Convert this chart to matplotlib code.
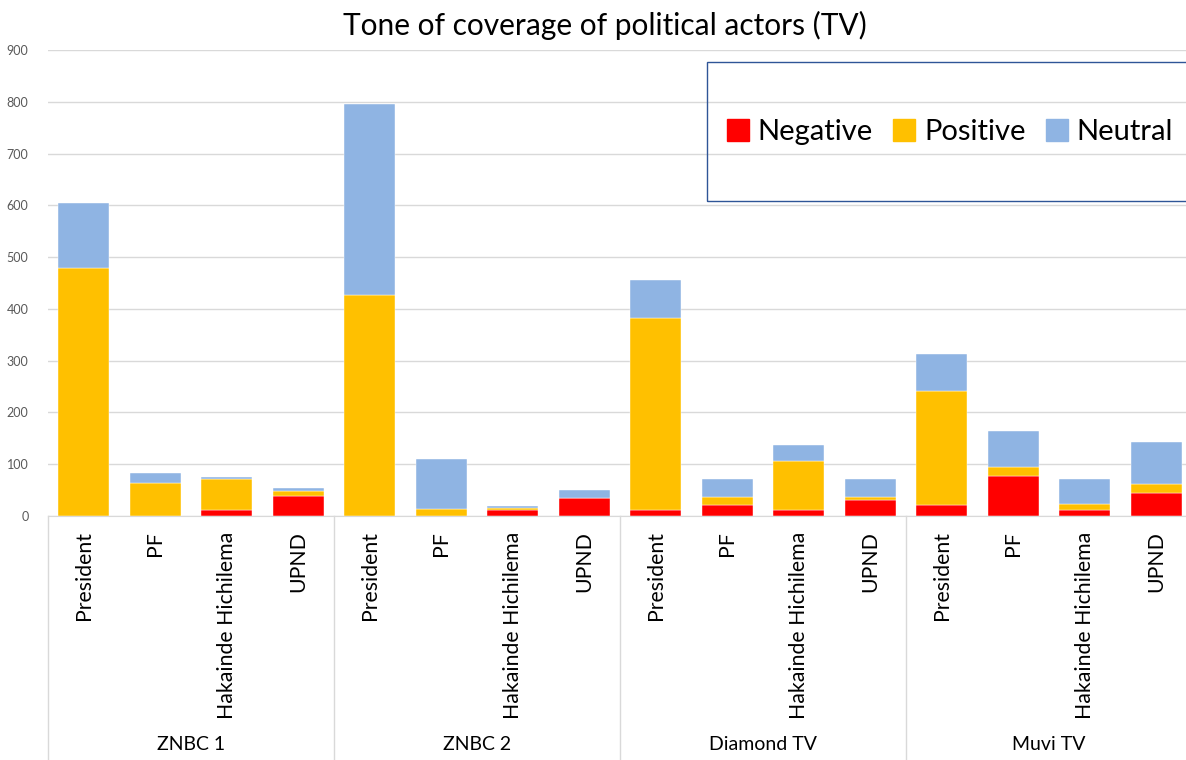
import matplotlib
matplotlib.use("Agg")
import matplotlib.pyplot as plt
from matplotlib.patches import Rectangle, Patch
import numpy as np

plt.rcParams["font.family"] = ["Lato", "DejaVu Sans"]

# ----------------------------
# data
# ----------------------------
channels = ["ZNBC 1", "ZNBC 2", "Diamond TV", "Muvi TV"]
actors = ["President", "PF", "Hakainde Hichilema", "UPND"]

negative = [0, 0, 12, 39,
            0, 0, 12, 34,
            12, 21, 12, 31,
            21, 78, 12, 45]
positive = [479, 63, 59, 9,
            427, 13, 4, 0,
            370, 16, 94, 6,
            220, 16, 11, 16]
neutral = [125, 21, 4, 6,
           369, 97, 3, 16,
           74, 34, 32, 34,
           72, 71, 48, 81]

c_neg = "#FF0000"
c_pos = "#FFC000"
c_neu = "#8FB4E3"
grid_c = "#D9D9D9"

W, H = 1186, 760
fig = plt.figure(figsize=(W / 100, H / 100), dpi=100)
ax = fig.add_axes([48 / W, (H - 516) / H, (1192 - 48) / W, 466 / H])

x = np.arange(len(actors) * len(channels))
neg = np.array(negative)
pos = np.array(positive)
neu = np.array(neutral)
bw = 0.71
ax.bar(x, neg, bw, color=c_neg, edgecolor="white", linewidth=0.3)
ax.bar(x, pos, bw, bottom=neg, color=c_pos, edgecolor="white", linewidth=0.3)
ax.bar(x, neu, bw, bottom=neg + pos, color=c_neu, edgecolor="white", linewidth=0.3)

ax.set_xlim(-0.5, len(x) - 0.5)
ax.set_ylim(0, 900)
ax.set_yticks(range(0, 901, 100))
ax.yaxis.grid(True, color=grid_c, linewidth=1)
ax.set_axisbelow(True)
ax.tick_params(axis="y", length=0, labelsize=9, labelcolor="#595959", pad=14)
for s in ["top", "right", "left"]:
    ax.spines[s].set_visible(False)
ax.spines["bottom"].set_color(grid_c)

ax.set_xticks(x)
ax.set_xticklabels(actors * len(channels), rotation=90, fontsize=15.3, va="top")
ax.tick_params(axis="x", length=0, pad=11)

# group separators and labels
tr = ax.get_xaxis_transform()
for i in range(len(channels) + 1):
    xs = i * len(actors) - 0.5
    ax.plot([xs, xs], [0, -0.53], color=grid_c, linewidth=1, transform=tr, clip_on=False)
for i, ch in enumerate(channels):
    xc = i * len(actors) + (len(actors) - 1) / 2
    ax.text(xc, -0.491, ch, transform=tr, ha="center", va="center", fontsize=14)

fig.text(605 / W, 1 - 25 / H, "Tone of coverage of political actors (TV)",
         ha="center", va="center", fontsize=21.5)

# legend box (runs past the right edge like the original)
fig.patches.append(Rectangle((707 / W, 1 - 201 / H), 500 / W, 139 / H,
                             transform=fig.transFigure, fill=False,
                             edgecolor="#2F5597", linewidth=1))
handles = [Patch(color=c_neg), Patch(color=c_pos), Patch(color=c_neu)]
fig.legend(handles, ["Negative", "Positive", "Neutral"], ncol=3, frameon=False,
           loc="center left", bbox_to_anchor=(727 / W, 1 - 132 / H),
           borderpad=0, borderaxespad=0,
           fontsize=21, handlelength=0.75, handleheight=0.75,
           handletextpad=0.3, columnspacing=0.7)

fig.savefig("out.png", dpi=100)
